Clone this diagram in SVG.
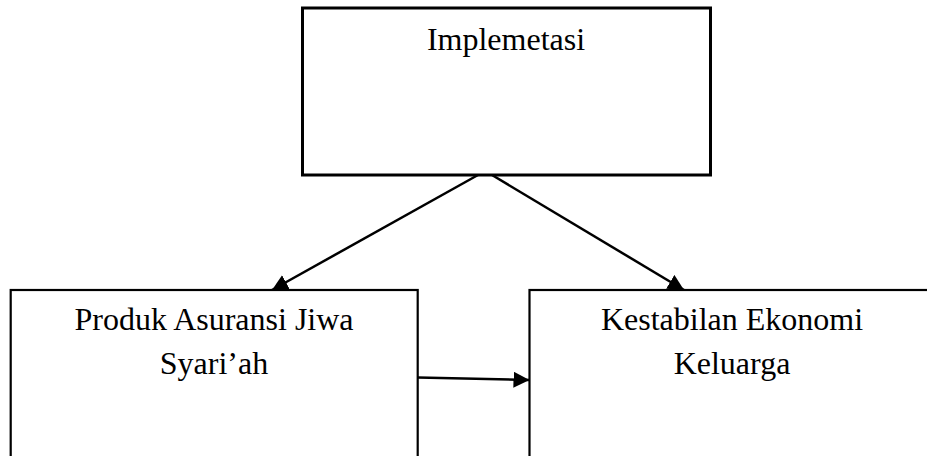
<svg xmlns="http://www.w3.org/2000/svg" width="927" height="456" viewBox="0 0 927 456">
  <defs>
    <style>
      .box { fill: #ffffff; stroke: #000000; stroke-width: 2.2; }
      .box-top { stroke-width: 3; }
      .lbl { font-family: "Liberation Serif", "Times New Roman", serif; font-size: 32px; fill: #000000; text-anchor: middle; }
      .conn { stroke: #000000; stroke-width: 2.5; fill: none; marker-end: url(#arrow); }
    </style>
    <marker id="arrow" markerUnits="userSpaceOnUse" markerWidth="18" markerHeight="18" refX="16" refY="8" orient="auto" viewBox="0 0 18 18">
      <path d="M0,0 L16,8 L0,16 z" fill="#000000"/>
    </marker>
  </defs>
  <rect width="927" height="456" fill="#ffffff"/>
  <g id="node-implemetasi">
    <rect class="box box-top" x="302.5" y="8" width="408" height="167"/>
    <text class="lbl" x="506" y="50">Implemetasi</text>
  </g>
  <g id="node-produk">
    <rect class="box" x="10.7" y="290" width="407" height="200"/>
    <text class="lbl" x="214" y="330">Produk Asuransi Jiwa</text>
    <text class="lbl" x="214" y="374">Syari’ah</text>
  </g>
  <g id="node-kestabilan">
    <rect class="box" x="529.5" y="290" width="407" height="200"/>
    <text class="lbl" x="732" y="330">Kestabilan Ekonomi</text>
    <text class="lbl" x="732" y="374">Keluarga</text>
  </g>
  <g id="connectors">
    <line class="conn" x1="478" y1="175" x2="272" y2="290"/>
    <line class="conn" x1="492" y1="175" x2="684" y2="290"/>
    <line class="conn" x1="418" y1="377.5" x2="529.5" y2="380"/>
  </g>
</svg>
